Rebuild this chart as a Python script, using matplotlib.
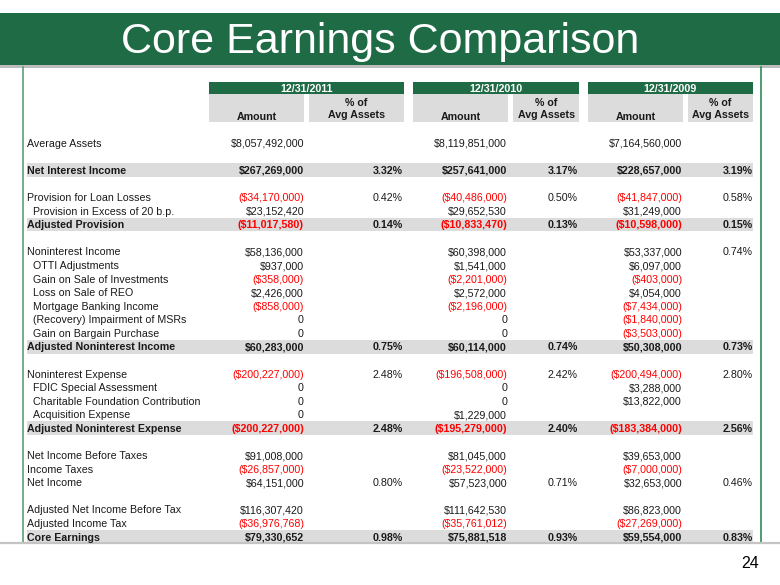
import matplotlib
matplotlib.use("Agg")
import matplotlib.pyplot as plt
from matplotlib.patches import Rectangle

plt.rcParams['font.family'] = ['Liberation Sans', 'DejaVu Sans']

title = "Core Earnings Comparison"
years = ["12/31/2011", "12/31/2010", "12/31/2009"]
sub_headers = ["Amount", "% of\nAvg Assets"]

# row labels ("" = blank spacer row), style: n = normal, i = indented, b = bold band
labels = ["Average Assets", "", "Net Interest Income", "",
          "Provision for Loan Losses", "Provision in Excess of 20 b.p.", "Adjusted Provision", "",
          "Noninterest Income", "OTTI Adjustments", "Gain on Sale of Investments", "Loss on Sale of REO",
          "Mortgage Banking Income", "(Recovery) Impairment of MSRs", "Gain on Bargain Purchase",
          "Adjusted Noninterest Income", "",
          "Noninterest Expense", "FDIC Special Assessment", "Charitable Foundation Contribution",
          "Acquisition Expense", "Adjusted Noninterest Expense", "",
          "Net Income Before Taxes", "Income Taxes", "Net Income", "",
          "Adjusted Net Income Before Tax", "Adjusted Income Tax", "Core Earnings"]
styles = ["n", "", "b", "",
          "n", "i", "b", "",
          "n", "i", "i", "i", "i", "i", "i", "b", "",
          "n", "i", "i", "i", "b", "",
          "n", "n", "n", "",
          "n", "n", "b"]

amount_2011 = [8057492000, None, 267269000, None,
               -34170000, 23152420, -11017580, None,
               58136000, 937000, -358000, 2426000, -858000, 0, 0, 60283000, None,
               -200227000, 0, 0, 0, -200227000, None,
               91008000, -26857000, 64151000, None,
               116307420, -36976768, 79330652]
pct_2011 = [None, None, 3.32, None,
            0.42, None, 0.14, None,
            None, None, None, None, None, None, None, 0.75, None,
            2.48, None, None, None, 2.48, None,
            None, None, 0.80, None,
            None, None, 0.98]

amount_2010 = [8119851000, None, 257641000, None,
               -40486000, 29652530, -10833470, None,
               60398000, 1541000, -2201000, 2572000, -2196000, 0, 0, 60114000, None,
               -196508000, 0, 0, 1229000, -195279000, None,
               81045000, -23522000, 57523000, None,
               111642530, -35761012, 75881518]
pct_2010 = [None, None, 3.17, None,
            0.50, None, 0.13, None,
            None, None, None, None, None, None, None, 0.74, None,
            2.42, None, None, None, 2.40, None,
            None, None, 0.71, None,
            None, None, 0.93]

amount_2009 = [7164560000, None, 228657000, None,
               -41847000, 31249000, -10598000, None,
               53337000, 6097000, -403000, 4054000, -7434000, -1840000, -3503000, 50308000, None,
               -200494000, 3288000, 13822000, None, -183384000, None,
               39653000, -7000000, 32653000, None,
               86823000, -27269000, 59554000]
pct_2009 = [None, None, 3.19, None,
            0.58, None, 0.15, None,
            0.74, None, None, None, None, None, None, 0.73, None,
            2.80, None, None, None, 2.56, None,
            None, None, 0.46, None,
            None, None, 0.83]

page_number = "24"

amounts = [amount_2011, amount_2010, amount_2009]
pcts = [pct_2011, pct_2010, pct_2009]

GREEN = "#1F6B46"
GRAY = "#DCDCDC"
RED = "#FF0000"
TXT = "#1A1A1A"
FS = 7.7


def fmt_amount(v):
    if v == 0:
        return "0"
    s = "${:,.0f}".format(abs(v))
    return "(" + s + ")" if v < 0 else s


fig = plt.figure(figsize=(7.8, 5.85), dpi=100)
ax = fig.add_axes([0, 0, 1, 1])
ax.set_xlim(0, 780)
ax.set_ylim(585, 0)
ax.axis("off")

# title band + shadow
ax.add_patch(Rectangle((0, 64), 780, 3.5, color="#BDBDBD", lw=0))
ax.add_patch(Rectangle((0, 13), 780, 51.5, color=GREEN, lw=0))
ax.text(380, 53, title, color="white", fontsize=31, ha="center", va="baseline")

# frame lines
ax.plot([23, 23], [67, 543], color="#5E9E7A", lw=1.2)
ax.plot([761, 761], [67, 543], color="#2E8B57", lw=1.2)
ax.plot([0, 780], [543, 543], color="#C4C4C4", lw=1.6)

# column headers
green_boxes = [(209, 404), (413, 579), (588, 753)]
amt_boxes = [(209, 304), (413, 508), (588, 683)]
pct_boxes = [(309, 404), (513, 579), (688, 753)]
for k, yr in enumerate(years):
    g0, g1 = green_boxes[k]
    ax.add_patch(Rectangle((g0, 82), g1 - g0, 12, color=GREEN, lw=0))
    ax.text((g0 + g1) / 2, 88.5, yr, color="white", fontsize=FS, fontweight="bold",
            ha="center", va="center")
    a0, a1 = amt_boxes[k]
    ax.add_patch(Rectangle((a0, 94), a1 - a0, 28, color=GRAY, lw=0))
    ax.text((a0 + a1) / 2, 119.5, sub_headers[0], color=TXT, fontsize=FS, fontweight="bold",
            ha="center", va="baseline")
    p0, p1 = pct_boxes[k]
    ax.add_patch(Rectangle((p0, 94), p1 - p0, 28, color=GRAY, lw=0))
    ax.text((p0 + p1) / 2, 109, sub_headers[1], color=TXT, fontsize=FS, fontweight="bold",
            ha="center", va="center", linespacing=1.25)

# body rows
y0, dy = 143.0, 13.58
amt_right = [304, 507, 682]
pct_right = [403, 578, 753]
for r, lab in enumerate(labels):
    if styles[r] == "":
        continue
    y = y0 + r * dy
    yb = y + 3.8
    bold = styles[r] == "b"
    fw = "bold" if bold else "normal"
    if bold:
        ax.add_patch(Rectangle((27, y - 6.8), 726, 13.6, color=GRAY, lw=0))
    lx = 33 if styles[r] == "i" else 27
    ax.text(lx, yb, lab, color=TXT, fontsize=FS, fontweight=fw, ha="left", va="baseline")
    for k in range(3):
        v = amounts[k][r]
        if v is not None:
            ax.text(amt_right[k], yb, fmt_amount(v), color=RED if v < 0 else TXT,
                    fontsize=FS, fontweight=fw, ha="right", va="baseline")
        p = pcts[k][r]
        if p is not None:
            ax.text(pct_right[k], yb, "{:.2f}%".format(p), color=TXT,
                    fontsize=FS, fontweight=fw, ha="right", va="baseline")

ax.text(759, 564, page_number, color="black", fontsize=11.5, ha="right", va="center")

fig.savefig("out.png", dpi=100)
